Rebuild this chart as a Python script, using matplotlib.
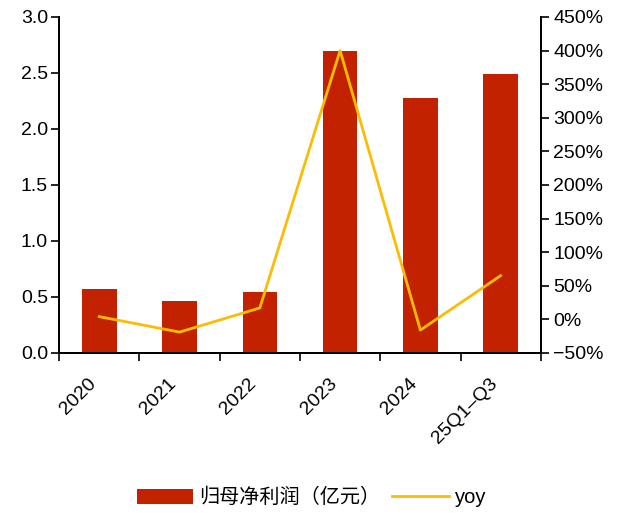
import matplotlib
matplotlib.use("Agg")
import matplotlib.pyplot as plt
import numpy as np
from matplotlib.ticker import FuncFormatter, MultipleLocator

plt.rcParams['font.family'] = ['Liberation Sans', 'Noto Sans CJK SC', 'DejaVu Sans']
plt.rcParams['axes.unicode_minus'] = False

categories = ["2020", "2021", "2022", "2023", "2024", "25Q1–Q3"]
net_profit = [0.57, 0.46, 0.54, 2.70, 2.28, 2.49]      # 亿元
yoy = [4, -19, 17, 400, -16, 65]                        # %

bar_color = "#C32200"
line_color = "#FBBC05"

fig = plt.figure(figsize=(6.23, 5.13), dpi=100)
ax = fig.add_axes([0.095, 0.312, 0.773, 0.655])
x = np.arange(len(categories))

bars = ax.bar(x, net_profit, width=0.43, color=bar_color, label="归母净利润（亿元）", zorder=2)
ax.set_xlim(-0.5, len(categories) - 0.5)
ax.set_ylim(0, 3.0)
ax.yaxis.set_major_locator(MultipleLocator(0.5))
ax.yaxis.set_major_formatter(FuncFormatter(lambda v, _: f"{v:.1f}"))

# category boundaries carry the x ticks; labels sit at the centres
ax.set_xticks(np.arange(-0.5, len(categories) + 0.5, 1.0))
ax.set_xticklabels([])
ax.set_xticks(x, minor=True)
ax.set_xticklabels(categories, minor=True, rotation=45, ha="right", va="top",
                   fontsize=14)
ax.tick_params(axis="x", which="minor", length=0, pad=16)
ax.tick_params(axis="x", which="major", length=6, width=1.2, direction="out")
ax.tick_params(axis="y", labelsize=14, length=6, width=1.2, direction="out", pad=2)

ax2 = ax.twinx()
line, = ax2.plot(x, yoy, color=line_color, lw=2, label="yoy", zorder=3)
ax2.set_ylim(-50, 450)
ax2.yaxis.set_major_locator(MultipleLocator(50))
ax2.yaxis.set_major_formatter(FuncFormatter(lambda v, _: f"{v:.0f}%".replace("-", "−")))
ax2.tick_params(axis="y", labelsize=14, length=6, width=1.2, direction="out", pad=3)

for a in (ax, ax2):
    a.spines["top"].set_visible(False)
    for s in ("left", "right", "bottom"):
        a.spines[s].set_linewidth(1.4)

fig.legend([bars, line], ["归母净利润（亿元）", "yoy"], loc="center",
           bbox_to_anchor=(0.5, 0.03), ncol=2, frameon=False, fontsize=14.5,
           handlelength=2.8, handleheight=0.8, columnspacing=0.6, handletextpad=0.3)

fig.savefig("out.png", dpi=100)
